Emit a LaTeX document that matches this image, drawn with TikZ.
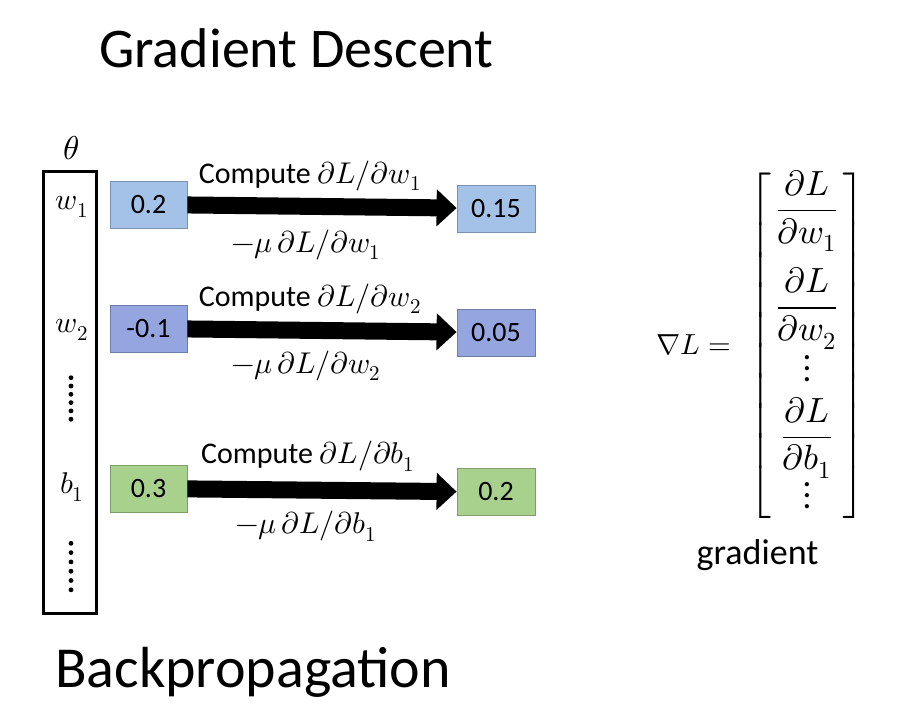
\documentclass[tikz,border=0pt]{standalone}
\usepackage{amsmath}
\usepackage{fontspec}
\usepackage{unicode-math}
\setmainfont{Carlito}
\setmathfont{Latin Modern Math}
\usetikzlibrary{arrows.meta,positioning}

\definecolor{wblue}{RGB}{164,194,232}
\definecolor{wviolet}{RGB}{148,165,224}
\definecolor{bgreen}{RGB}{169,209,142}

\newcommand{\colvdots}{\vbox{\baselineskip=11pt\lineskiplimit=0pt\kern2pt\hbox{.}\hbox{.}\hbox{.}}}

\tikzset{
  valbox/.style={draw=#1!75!black, fill=#1, line width=0.8pt, minimum width=77pt,
    minimum height=47pt, inner sep=0pt, font=\fontsize{28}{34}\selectfont},
  gradarrow/.style={line width=17pt, -{Triangle[length=20pt,width=36pt]}},
  lbl/.style={font=\fontsize{30}{36}\selectfont, inner sep=0pt},
}

\begin{document}
\begin{tikzpicture}[x=1pt,y=-1pt]
    \useasboundingbox (0,0) rectangle (916,716);

    % Titoli
    \node[font=\fontsize{56}{64}\selectfont, inner sep=0pt, anchor=base west] (title) at (99,67) {Gradient Descent};
    \node[font=\fontsize{58}{64}\selectfont, inner sep=0pt, anchor=base west] (backprop) at (55,687) {Backpropagation};

    % Vettore dei parametri
    \node[draw, line width=3.3pt, minimum width=52.7pt, minimum height=441.7pt, inner sep=0pt] (params) at (70,392.5) {};
    \node[lbl, font=\fontsize{33}{38}\selectfont] (theta) at (71,148) {$\theta$};
    \node[lbl] (w1) at (72,207) {$w_1$};
    \node[lbl] (w2) at (72,330) {$w_2$};
    \node[lbl] (b1) at (72,487) {$b_1$};
    \foreach \i in {0,...,5} {
        \fill (71,377.7+8.3*\i) circle (2.4pt);
        \fill (71,543.3+9.3*\i) circle (2.4pt);
    }

    % Valori prima e dopo
    \node[valbox=wblue] (a1) at (148.5,204.5) {0.2};
    \node[valbox=wblue, minimum width=78pt] (n1) at (496,208.5) {0.15};
    \node[valbox=wviolet] (a2) at (148.5,328.5) {-0.1};
    \node[valbox=wviolet, minimum width=78pt] (n2) at (496,332.5) {0.05};
    \node[valbox=bgreen] (a3) at (148.5,488.5) {0.3};
    \node[valbox=bgreen, minimum width=78pt] (n3) at (496,492) {0.2};

    % Frecce di aggiornamento
    \draw[gradarrow] (a1) -- (n1)
        node[lbl, midway, yshift=31pt, xshift=-12pt] {Compute $\partial L/\partial w_1$}
        node[lbl, midway, yshift=-38pt, xshift=-16pt] {$-\mu\,\partial L/\partial w_1$};
    \draw[gradarrow] (a2) -- (n2)
        node[lbl, midway, yshift=32pt, xshift=-12pt] {Compute $\partial L/\partial w_2$}
        node[lbl, midway, yshift=-35pt, xshift=-16pt] {$-\mu\,\partial L/\partial w_2$};
    \draw[gradarrow] (a3) -- (n3)
        node[lbl, midway, yshift=34pt, xshift=-14pt] {Compute $\partial L/\partial b_1$}
        node[lbl, midway, yshift=-36pt, xshift=-16pt] {$-\mu\,\partial L/\partial b_1$};

    % Gradiente
    \node[font=\fontsize{29}{35}\selectfont, anchor=base] (nabla) at (694,354) {$\nabla L =$};
    \node[font=\fontsize{35}{40}\selectfont, inner sep=0pt] (gradvec) at (807,345.5)
        {$\left[\begin{array}{c}
            \dfrac{\partial L}{\partial w_1}\\ \noalign{\vskip 16pt}
            \dfrac{\partial L}{\partial w_2}\\ \noalign{\vskip 4pt}
            \colvdots\\ \noalign{\vskip 4pt}
            \dfrac{\partial L}{\partial b_1}\\ \noalign{\vskip 2pt}
            \colvdots
        \end{array}\right]$};
    \node[font=\fontsize{36}{42}\selectfont, anchor=base] (gradlbl) at (757.5,564) {gradient};
\end{tikzpicture}
\end{document}
